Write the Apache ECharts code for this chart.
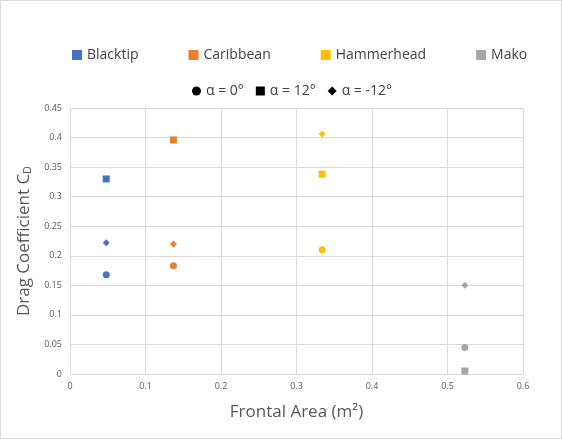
<!DOCTYPE html>
<html>
<head>
<meta charset="utf-8">
<script src="https://cdn.jsdelivr.net/npm/echarts@6/dist/echarts.min.js"></script>
<style>
  html, body { margin: 0; padding: 0; background: #fff; }
  #chart { width: 560px; height: 437px; border: 1px solid #d9d9d9; }
</style>
</head>
<body>
<div id="chart"></div>
<script>
const sharks = ["Blacktip", "Caribbean", "Hammerhead", "Mako"];
const colors = ["#4472c4", "#ed7d31", "#ffc000", "#a5a5a5"];
const frontalArea = [0.048, 0.137, 0.334, 0.523];
const cdAlpha0 = [0.168, 0.183, 0.21, 0.045];
const cdAlpha12 = [0.33, 0.396, 0.338, 0.005];
const cdAlphaM12 = [0.222, 0.22, 0.406, 0.15];
const angleNames = ["α = 0°", "α = 12°", "α = -12°"];
const angleSymbols = ["circle", "rect", "diamond"];
const angleData = [cdAlpha0, cdAlpha12, cdAlphaM12];

const myChart = echarts.init(document.getElementById("chart"));
const series = [];
// legend-only series
sharks.forEach((s, i) => {
  series.push({ name: s, type: "scatter", data: [], symbol: "rect", itemStyle: { color: colors[i], opacity: 1 } });
});
angleNames.forEach((a, j) => {
  series.push({ name: a, type: "scatter", data: [], symbol: angleSymbols[j], itemStyle: { color: "#000", opacity: 1 } });
});
// data
sharks.forEach((s, i) => {
  angleData.forEach((d, j) => {
    series.push({
      name: s + " " + angleNames[j],
      type: "scatter",
      symbol: angleSymbols[j],
      symbolSize: 7,
      itemStyle: { color: colors[i], opacity: 1 },
      data: [[frontalArea[i], d[i]]]
    });
  });
});

const font = "Open Sans, Calibri, sans-serif";
myChart.setOption({
  animation: false,
  textStyle: { fontFamily: font },
  legend: [
    { data: sharks, top: 42, left: 66, width: 520, itemGap: 50, itemWidth: 10, itemHeight: 10, selectedMode: false,
      textStyle: { fontSize: 14, color: "#404040", fontFamily: font } },
    { data: angleNames, top: 78, left: 186, width: 400, itemGap: 12, itemWidth: 9, itemHeight: 9, selectedMode: false,
      textStyle: { fontSize: 14, color: "#404040", fontFamily: font } }
  ],
  grid: { left: 69, right: 38, top: 107, bottom: 64 },
  xAxis: {
    type: "value", min: 0, max: 0.6, interval: 0.1,
    name: "Frontal Area (m²)", nameLocation: "middle", nameGap: 30,
    nameTextStyle: { fontSize: 17, color: "#595959" },
    axisLine: { show: false }, axisTick: { show: false },
    axisLabel: { fontSize: 9, color: "#595959" },
    splitLine: { lineStyle: { color: "#d9d9d9" } }
  },
  yAxis: {
    type: "value", min: 0, max: 0.45, interval: 0.05,
    name: "Drag Coefficient C{sub|D}", nameLocation: "middle", nameGap: 36,
    nameTextStyle: { fontSize: 17, color: "#595959", rich: { sub: { fontSize: 11, verticalAlign: "bottom", padding: [8, 0, 0, 0], color: "#595959" } } },
    axisLine: { show: false }, axisTick: { show: false },
    axisLabel: { fontSize: 9, color: "#595959" },
    splitLine: { lineStyle: { color: "#d9d9d9" } }
  },
  series: series
});
</script>
</body>
</html>
